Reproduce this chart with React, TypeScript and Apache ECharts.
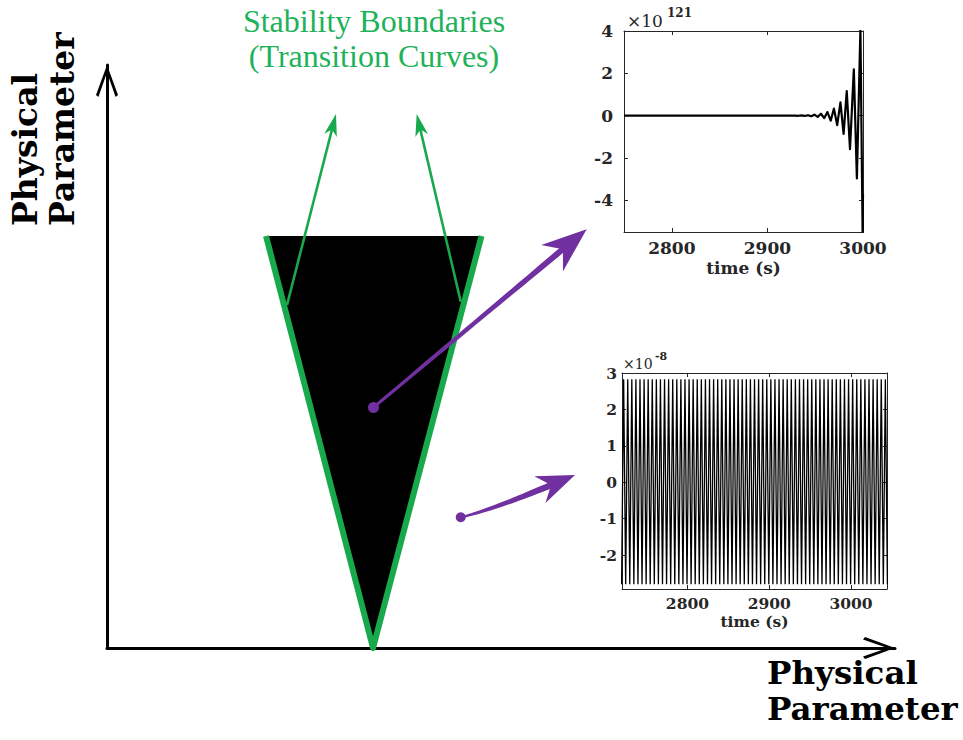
import React, { useEffect, useRef } from 'react';
import * as echarts from 'echarts';

// ---- Parameter plane (schematic units 0..10 on both axes) ----
// Unstable wedge: left top corner, apex on the horizontal axis, right top corner
const wedgeX = [2.018, 3.376, 4.753];
const wedgeY = [7.067, 0, 7.067];

// Pointers to the transition curves
const greenArrowStart = [[2.284, 5.883], [4.489, 5.94]];
const greenArrowTip = [[2.906, 9.16], [3.93, 9.16]];

// Pointers from a parameter point to its time response
const purpleArrowStart = [[3.382, 4.127], [4.489, 2.242]];
const purpleArrowBend = [[4.735, 5.655], [4.86, 2.357]];
const purpleArrowTip = [[6.087, 7.182], [5.939, 2.967]];

// ---- Unstable response (x 10^121) ----
const unstableTime = [
  2750, 2929, 2932.2, 2935.6, 2939, 2942.4, 2945.8, 2949.2, 2952.6, 2956, 2959.4,
  2962.8, 2966.2, 2969.6, 2973, 2976.4, 2979.7, 2983, 2986.4, 2990.4, 2993.6, 2997.3,
  2999.6, 3000,
];
const unstableValue = [
  0, 0, -0.007, 0.01, -0.015, 0.02, -0.03, 0.045, -0.06, 0.09, -0.12,
  0.17, -0.24, 0.33, -0.45, 0.63, -0.86, 1.16, -1.59, 2.19, -2.97, 4.1,
  -5.6, -3.7,
];
const unstableXTicks = [2800, 2900, 3000];
const unstableYTicks = [-4, -2, 0, 2, 4];

// ---- Bounded periodic response (x 10^-8) ----
const crestTimes = [
  2722, 2727, 2732, 2737, 2742, 2747, 2752, 2757, 2762, 2767, 2772, 2777, 2782,
  2787, 2792, 2797, 2802, 2807, 2812, 2817, 2822, 2827, 2832, 2837, 2842, 2847,
  2852, 2857, 2862, 2867, 2872, 2877, 2882, 2887, 2892, 2897, 2902, 2907, 2912,
  2917, 2922, 2927, 2932, 2937, 2942, 2947, 2952, 2957, 2962, 2967, 2972, 2977,
  2982, 2987, 2992, 2997, 3002, 3007, 3012, 3017, 3022, 3027, 3032, 3037, 3042,
];
const troughTimes = [
  2719.5, 2724.5, 2729.5, 2734.5, 2739.5, 2744.5, 2749.5, 2754.5, 2759.5, 2764.5,
  2769.5, 2774.5, 2779.5, 2784.5, 2789.5, 2794.5, 2799.5, 2804.5, 2809.5, 2814.5,
  2819.5, 2824.5, 2829.5, 2834.5, 2839.5, 2844.5, 2849.5, 2854.5, 2859.5, 2864.5,
  2869.5, 2874.5, 2879.5, 2884.5, 2889.5, 2894.5, 2899.5, 2904.5, 2909.5, 2914.5,
  2919.5, 2924.5, 2929.5, 2934.5, 2939.5, 2944.5, 2949.5, 2954.5, 2959.5, 2964.5,
  2969.5, 2974.5, 2979.5, 2984.5, 2989.5, 2994.5, 2999.5, 3004.5, 3009.5, 3014.5,
  3019.5, 3024.5, 3029.5, 3034.5, 3039.5, 3044.5,
];
const crestValue = 2.83;
const troughValue = -2.8;
const periodicXTicks = [2800, 2900, 3000];
const periodicYTicks = [-2, -1, 0, 1, 2, 3];

const GREEN = '#19a94d';
const GREEN_TEXT = '#1fb25a';
const PURPLE = '#7030a0';
const INK = '#262626';
const DSERIF = "'DejaVu Serif', serif";
const LSERIF = "'Liberation Serif', serif";
const CHEVRON = 'path://M11,0 L22,30 L19.6,32 L11,7.5 L2.4,32 L0,30 Z';

type Head = { length: number; halfWidth: number; notch: number; w0: number; w1: number; dot: number };

const greenHead: Head = { length: 22, halfWidth: 6.5, notch: 15, w0: 2.6, w1: 2.6, dot: 0 };
const purpleHeads: Head[] = [
  { length: 45, halfWidth: 17, notch: 30, w0: 3, w1: 6, dot: 5.5 },
  { length: 38, halfWidth: 14.5, notch: 25, w0: 2, w1: 6.5, dot: 5 },
];

const plain = (v: number) => String(v);

function arrowShapes(p0: number[], pc: number[], p1: number[], h: Head, color: string) {
  let dx = p1[0] - pc[0];
  let dy = p1[1] - pc[1];
  const len = Math.hypot(dx, dy) || 1;
  dx /= len;
  dy /= len;
  const nx = -dy;
  const ny = dx;
  const base = [p1[0] - dx * h.notch, p1[1] - dy * h.notch];
  const left: number[][] = [];
  const right: number[][] = [];
  const steps = 24;
  for (let i = 0; i <= steps; i++) {
    const t = i / steps;
    const a = (1 - t) * (1 - t);
    const b = 2 * (1 - t) * t;
    const c = t * t;
    const x = a * p0[0] + b * pc[0] + c * base[0];
    const y = a * p0[1] + b * pc[1] + c * base[1];
    let tx = 2 * (1 - t) * (pc[0] - p0[0]) + 2 * t * (base[0] - pc[0]);
    let ty = 2 * (1 - t) * (pc[1] - p0[1]) + 2 * t * (base[1] - pc[1]);
    const tl = Math.hypot(tx, ty) || 1;
    tx /= tl;
    ty /= tl;
    const w = (h.w0 + (h.w1 - h.w0) * t) / 2;
    left.push([x - ty * w, y + tx * w]);
    right.push([x + ty * w, y - tx * w]);
  }
  const shaft = left.concat(right.reverse());
  const head = [
    p1,
    [p1[0] - dx * h.length + nx * h.halfWidth, p1[1] - dy * h.length + ny * h.halfWidth],
    [base[0] - dx * 1, base[1] - dy * 1],
    [p1[0] - dx * h.length - nx * h.halfWidth, p1[1] - dy * h.length - ny * h.halfWidth],
  ];
  const children: any[] = [
    { type: 'polygon', shape: { points: shaft }, style: { fill: color } },
    { type: 'polygon', shape: { points: head }, style: { fill: color } },
  ];
  if (h.dot > 0) {
    children.push({ type: 'circle', shape: { cx: p0[0], cy: p0[1], r: h.dot }, style: { fill: color } });
  }
  return { type: 'group', children };
}

function buildPeriodic(): number[][] {
  const pts: number[][] = [];
  crestTimes.forEach((t) => pts.push([t, crestValue]));
  troughTimes.forEach((t) => pts.push([t, troughValue]));
  return pts.sort((p, q) => p[0] - q[0]);
}

const insetAxisLine = { show: true, onZero: false, lineStyle: { color: INK, width: 1 } };

export default function App() {
  const ref = useRef<HTMLDivElement>(null);

  useEffect(() => {
    if (!ref.current) return;
    const chart = echarts.init(ref.current, null, { renderer: 'svg' });

    const option: any = {
      animation: false,
      backgroundColor: '#ffffff',
      grid: [
        { left: 107, right: 68, top: 65, bottom: 92 },
        { left: 624, top: 31, width: 239, height: 201 },
        { left: 622, top: 373, width: 265, height: 216 },
      ],
      xAxis: [
        {
          gridIndex: 0, type: 'value', min: 0, max: 10,
          axisLine: {
            show: true, onZero: false, symbol: ['none', CHEVRON], symbolSize: [22, 32], symbolOffset: [0, -16],
            lineStyle: { color: '#000', width: 3 },
          },
          axisTick: { show: false }, axisLabel: { show: false }, splitLine: { show: false },
        },
        {
          gridIndex: 1, type: 'value', min: 2750, max: 3000, position: 'bottom',
          axisLine: insetAxisLine,
          axisTick: { show: true, inside: true, length: 4, customValues: unstableXTicks, lineStyle: { color: INK } },
          axisLabel: {
            customValues: unstableXTicks, margin: 7, color: INK, formatter: plain,
            fontFamily: DSERIF, fontWeight: 'bold', fontSize: 17,
          },
          splitLine: { show: false },
          name: 'time (s)', nameLocation: 'middle', nameGap: 27,
          nameTextStyle: { color: INK, fontFamily: DSERIF, fontWeight: 'bold', fontSize: 17 },
        },
        {
          gridIndex: 1, type: 'value', min: 2750, max: 3000, position: 'top',
          axisLine: insetAxisLine,
          axisTick: { show: true, inside: true, length: 4, customValues: unstableXTicks, lineStyle: { color: INK } },
          axisLabel: { show: false }, splitLine: { show: false },
        },
        {
          gridIndex: 2, type: 'value', min: 2720, max: 3044, position: 'bottom',
          axisLine: insetAxisLine,
          axisTick: { show: true, inside: true, length: 4, customValues: periodicXTicks, lineStyle: { color: INK } },
          axisLabel: {
            customValues: periodicXTicks, margin: 6, color: INK, formatter: plain,
            fontFamily: DSERIF, fontWeight: 'bold', fontSize: 15.5,
          },
          splitLine: { show: false },
          name: 'time (s)', nameLocation: 'middle', nameGap: 24,
          nameTextStyle: { color: INK, fontFamily: DSERIF, fontWeight: 'bold', fontSize: 15.5 },
        },
        {
          gridIndex: 2, type: 'value', min: 2720, max: 3044, position: 'top',
          axisLine: insetAxisLine,
          axisTick: { show: true, inside: true, length: 4, customValues: periodicXTicks, lineStyle: { color: INK } },
          axisLabel: { show: false }, splitLine: { show: false },
        },
      ],
      yAxis: [
        {
          gridIndex: 0, type: 'value', min: 0, max: 10,
          axisLine: {
            show: true, onZero: false, symbol: ['none', CHEVRON], symbolSize: [22, 32], symbolOffset: [0, -16],
            lineStyle: { color: '#000', width: 3 },
          },
          axisTick: { show: false }, axisLabel: { show: false }, splitLine: { show: false },
        },
        {
          gridIndex: 1, type: 'value', min: -5.5, max: 4, position: 'left',
          axisLine: insetAxisLine,
          axisTick: { show: true, inside: true, length: 4, customValues: unstableYTicks, lineStyle: { color: INK } },
          axisLabel: {
            customValues: unstableYTicks, margin: 11, color: INK, formatter: plain,
            fontFamily: DSERIF, fontWeight: 'bold', fontSize: 17,
          },
          splitLine: { show: false },
        },
        {
          gridIndex: 1, type: 'value', min: -5.5, max: 4, position: 'right',
          axisLine: insetAxisLine,
          axisTick: { show: true, inside: true, length: 4, customValues: unstableYTicks, lineStyle: { color: INK } },
          axisLabel: { show: false }, splitLine: { show: false },
        },
        {
          gridIndex: 2, type: 'value', min: -2.93, max: 3, position: 'left',
          axisLine: insetAxisLine,
          axisTick: { show: true, inside: true, length: 4, customValues: periodicYTicks, lineStyle: { color: INK } },
          axisLabel: {
            customValues: periodicYTicks, margin: 5, color: INK, formatter: plain,
            fontFamily: DSERIF, fontWeight: 'bold', fontSize: 15.5,
          },
          splitLine: { show: false },
        },
        {
          gridIndex: 2, type: 'value', min: -2.93, max: 3, position: 'right',
          axisLine: insetAxisLine,
          axisTick: { show: true, inside: true, length: 4, customValues: periodicYTicks, lineStyle: { color: INK } },
          axisLabel: { show: false }, splitLine: { show: false },
        },
      ],
      series: [
        {
          // unstable wedge with its transition-curve edges
          type: 'custom', xAxisIndex: 0, yAxisIndex: 0, silent: true, z: 2,
          data: [[wedgeX[1], wedgeY[1]]],
          renderItem: (params: any, api: any) => {
            const pts = wedgeX.map((x, i) => api.coord([x, wedgeY[i]]));
            return {
              type: 'group',
              children: [
                { type: 'polygon', shape: { points: pts }, style: { fill: '#000' } },
                {
                  type: 'polyline', shape: { points: pts },
                  style: { stroke: GREEN, lineWidth: 6, fill: null, lineJoin: 'round', lineCap: 'butt' },
                },
              ],
            };
          },
        },
        {
          type: 'custom', xAxisIndex: 0, yAxisIndex: 0, silent: true, z: 3,
          data: greenArrowStart.map((s, i) => [s[0], s[1], greenArrowTip[i][0], greenArrowTip[i][1]]),
          renderItem: (params: any, api: any) => {
            const p0 = api.coord([api.value(0), api.value(1)]);
            const p1 = api.coord([api.value(2), api.value(3)]);
            const pc = [(p0[0] + p1[0]) / 2, (p0[1] + p1[1]) / 2];
            return arrowShapes(p0, pc, p1, greenHead, GREEN);
          },
        },
        {
          type: 'custom', xAxisIndex: 0, yAxisIndex: 0, silent: true, z: 4,
          data: purpleArrowStart.map((s, i) => [
            s[0], s[1], purpleArrowBend[i][0], purpleArrowBend[i][1], purpleArrowTip[i][0], purpleArrowTip[i][1],
          ]),
          renderItem: (params: any, api: any) => {
            const p0 = api.coord([api.value(0), api.value(1)]);
            const pc = api.coord([api.value(2), api.value(3)]);
            const p1 = api.coord([api.value(4), api.value(5)]);
            return arrowShapes(p0, pc, p1, purpleHeads[params.dataIndex], PURPLE);
          },
        },
        {
          type: 'line', xAxisIndex: 1, yAxisIndex: 1, silent: true,
          data: unstableTime.map((t, i) => [t, unstableValue[i]]),
          symbol: 'none', clip: true,
          lineStyle: { color: '#000', width: 2.2, join: 'round' },
        },
        {
          type: 'line', xAxisIndex: 3, yAxisIndex: 3, silent: true,
          data: buildPeriodic(),
          symbol: 'none', clip: true,
          lineStyle: { color: '#000', width: 1.3 },
        },
      ],
      graphic: [
        {
          type: 'text', x: 374, y: 21, silent: true,
          style: { text: 'Stability Boundaries', fill: GREEN_TEXT, font: `32px ${LSERIF}`, align: 'center', verticalAlign: 'middle' },
        },
        {
          type: 'text', x: 374, y: 56, silent: true,
          style: { text: '(Transition Curves)', fill: GREEN_TEXT, font: `32px ${LSERIF}`, align: 'center', verticalAlign: 'middle' },
        },
        {
          type: 'text', x: 25, y: 226, rotation: Math.PI / 2, silent: true,
          style: { text: 'Physical', fill: '#000', font: `bold 33px ${DSERIF}`, align: 'left', verticalAlign: 'middle' },
        },
        {
          type: 'text', x: 62, y: 226, rotation: Math.PI / 2, silent: true,
          style: { text: 'Parameter', fill: '#000', font: `bold 33px ${DSERIF}`, align: 'left', verticalAlign: 'middle' },
        },
        {
          type: 'text', x: 767, y: 672, silent: true,
          style: { text: 'Physical', fill: '#000', font: `bold 32.5px ${DSERIF}`, align: 'left', verticalAlign: 'middle' },
        },
        {
          type: 'text', x: 767, y: 708, silent: true,
          style: { text: 'Parameter', fill: '#000', font: `bold 32.5px ${DSERIF}`, align: 'left', verticalAlign: 'middle' },
        },
        {
          type: 'text', x: 627, y: 21, silent: true,
          style: { text: '×10', fill: INK, font: `17px ${DSERIF}`, align: 'left', verticalAlign: 'middle' },
        },
        {
          type: 'text', x: 667, y: 13, silent: true,
          style: { text: '121', fill: INK, font: `bold 12px ${DSERIF}`, align: 'left', verticalAlign: 'middle' },
        },
        {
          type: 'text', x: 623, y: 364, silent: true,
          style: { text: '×10', fill: INK, font: `14px ${DSERIF}`, align: 'left', verticalAlign: 'middle' },
        },
        {
          type: 'text', x: 655, y: 356, silent: true,
          style: { text: '-8', fill: INK, font: `bold 11px ${DSERIF}`, align: 'left', verticalAlign: 'middle' },
        },
      ],
    };

    chart.setOption(option);
    return () => chart.dispose();
  }, []);

  return <div ref={ref} style={{ width: 963, height: 740, position: 'absolute', left: 0, top: 0 }} />;
}
